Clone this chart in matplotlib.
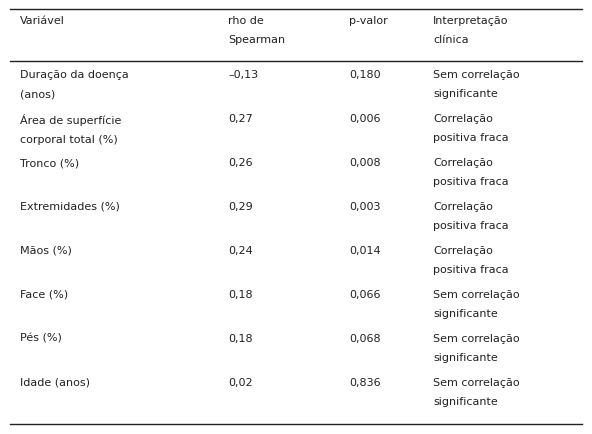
import matplotlib.pyplot as plt

header = ["Variável", "rho de\nSpearman", "p-valor", "Interpretação\nclínica"]
variables = ["Duração da doença\n(anos)", "Área de superfície\ncorporal total (%)", "Tronco (%)",
             "Extremidades (%)", "Mãos (%)", "Face (%)", "Pés (%)", "Idade (anos)"]
rho = ["–0,13", "0,27", "0,26", "0,29", "0,24", "0,18", "0,18", "0,02"]
pvals = ["0,180", "0,006", "0,008", "0,003", "0,014", "0,066", "0,068", "0,836"]
interp = ["Sem correlação\nsignificante", "Correlação\npositiva fraca", "Correlação\npositiva fraca",
          "Correlação\npositiva fraca", "Correlação\npositiva fraca", "Sem correlação\nsignificante",
          "Sem correlação\nsignificante", "Sem correlação\nsignificante"]

W, H = 592, 435
fig = plt.figure(figsize=(W / 100, H / 100), dpi=100)
col_x = [20, 228, 349, 433]

def px(x, y):
    return x / W, 1 - y / H

def put(x, y, s):
    fig.text(*px(x, y), s, ha='left', va='top', fontsize=8, color='#222222', linespacing=2.15)

for x, s in zip(col_x, header):
    put(x, 16, s)
for i in range(len(variables)):
    y = 70 + 44 * i
    for x, s in zip(col_x, [variables[i], rho[i], pvals[i], interp[i]]):
        put(x, y, s)

for y in [10, 62, 425]:
    fig.add_artist(plt.Line2D([10 / W, 582 / W], [1 - y / H] * 2, color='#222222', lw=1.0))

fig.savefig("out.png", dpi=100)
